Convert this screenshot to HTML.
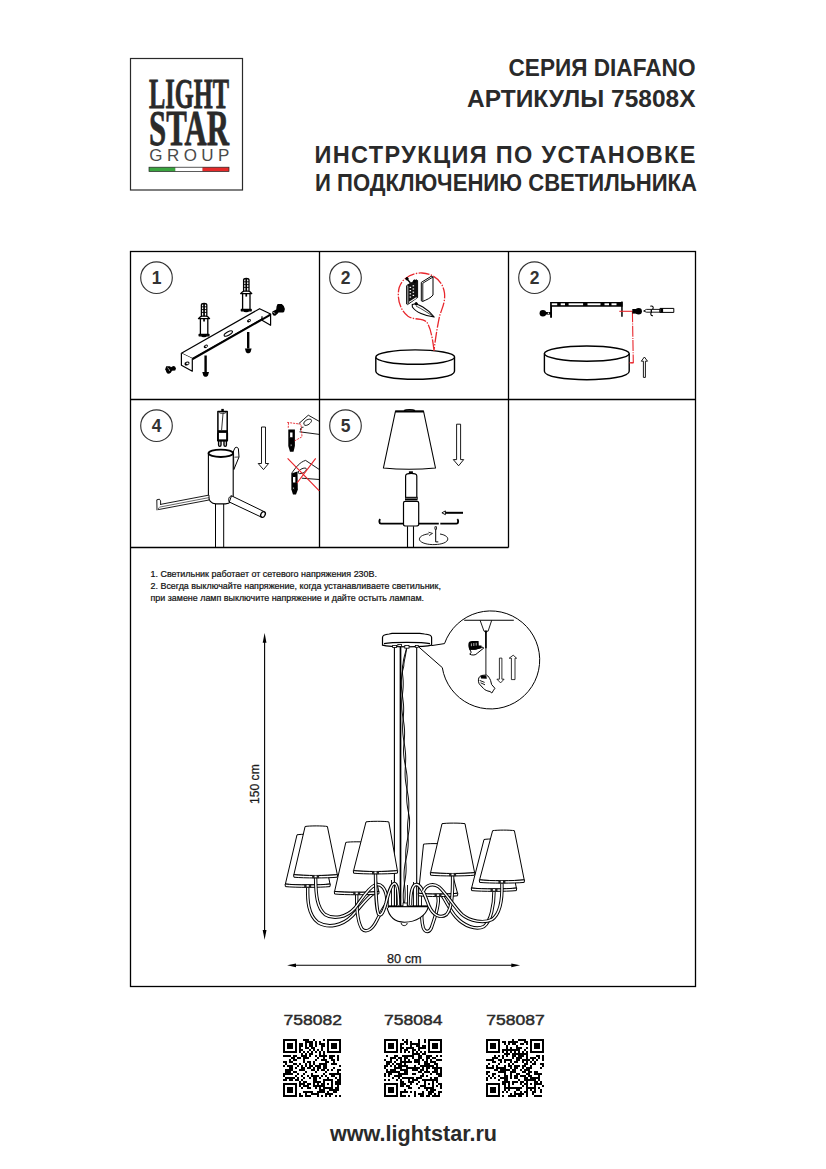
<!DOCTYPE html>
<html><head><meta charset="utf-8">
<style>
html,body{margin:0;padding:0;background:#fff;}
body{width:826px;height:1169px;overflow:hidden;}
svg{display:block;}
</style></head>
<body>
<svg width="826" height="1169" viewBox="0 0 826 1169" font-family="Liberation Sans, sans-serif">
<!-- ===== HEADER ===== -->
<g id="logo">
<rect x="130.5" y="58.5" width="112" height="131.5" fill="none" stroke="#2a2a2a" stroke-width="1.2"/>
<text x="149" y="107.5" font-family="Liberation Serif, serif" font-weight="bold" font-size="42.5" fill="#2a2a2a" stroke="#2a2a2a" stroke-width="0.8" textLength="80" lengthAdjust="spacingAndGlyphs">LIGHT</text>
<text x="149" y="144.5" font-family="Liberation Serif, serif" font-weight="bold" font-size="50.5" fill="#2a2a2a" stroke="#2a2a2a" stroke-width="0.8" textLength="80" lengthAdjust="spacingAndGlyphs">STAR</text>
<text x="149.3" y="161" font-size="17" fill="#4a4a4a" textLength="80" lengthAdjust="spacing">GROUP</text>
<rect x="149" y="167.2" width="26.5" height="4.3" fill="#3aa53f"/>
<rect x="175.5" y="167.2" width="27" height="4.3" fill="#fff" stroke="#bbb" stroke-width="0.4"/>
<rect x="202.5" y="167.2" width="26.5" height="4.3" fill="#e52a2a"/>
<rect x="149" y="167.2" width="80" height="4.3" fill="none" stroke="#222" stroke-width="0.7"/>
</g>
<g id="titles" fill="#2a2a2a" font-weight="bold" text-anchor="end">
<text x="695.5" y="76" font-size="23.5" textLength="187" lengthAdjust="spacingAndGlyphs">СЕРИЯ DIAFANO</text>
<text x="695.5" y="106.5" font-size="23.5" textLength="228.5" lengthAdjust="spacingAndGlyphs">АРТИКУЛЫ 75808X</text>
<text x="695.5" y="162.7" font-size="23.5" textLength="381" lengthAdjust="spacing">ИНСТРУКЦИЯ ПО УСТАНОВКЕ</text>
<text x="697" y="190.6" font-size="23.5" textLength="382" lengthAdjust="spacingAndGlyphs">И ПОДКЛЮЧЕНИЮ СВЕТИЛЬНИКА</text>
</g>

<!-- ===== GRID ===== -->
<g fill="none" stroke="#000" stroke-width="1.3">
<rect x="130.5" y="251.5" width="565" height="735"/>
<line x1="130.5" y1="399.5" x2="695.5" y2="399.5"/>
<line x1="130.5" y1="547.5" x2="508.5" y2="547.5"/>
<line x1="319.5" y1="251.5" x2="319.5" y2="547.5"/>
<line x1="508.5" y1="251.5" x2="508.5" y2="547.5"/>
</g>
<g fill="none" stroke="#333" stroke-width="1.15">
<circle cx="156.5" cy="277.7" r="15.8"/>
<circle cx="345.5" cy="277.7" r="15.8"/>
<circle cx="534.5" cy="277.7" r="15.8"/>
<circle cx="156.5" cy="425.7" r="15.8"/>
<circle cx="345.5" cy="425.7" r="15.8"/>
</g>
<g fill="#333" font-weight="bold" font-size="17.5" text-anchor="middle">
<text x="156.5" y="284">1</text>
<text x="345.5" y="284">2</text>
<text x="534.5" y="284">2</text>
<text x="156.5" y="432">4</text>
<text x="345.5" y="432">5</text>
</g>
<g fill="#111" stroke="#111" stroke-width="0.22" font-size="9">
<text x="150.5" y="577" textLength="226.5" lengthAdjust="spacingAndGlyphs">1. Светильник работает от сетевого напряжения 230В.</text>
<text x="150.5" y="589" textLength="290.5" lengthAdjust="spacingAndGlyphs">2. Всегда выключайте напряжение, когда устанавливаете светильник,</text>
<text x="150.5" y="601" textLength="273.5" lengthAdjust="spacingAndGlyphs">при замене ламп выключите напряжение и дайте остыть лампам.</text>
</g>

<!-- PANEL 1 -->
<g id="p1" fill="none" stroke="#000" stroke-width="1.2" stroke-linejoin="round">
<!-- bracket top face -->
<path d="M181.4 353.3 L259.6 308.7 L270.6 314 L192.3 358.6 Z" fill="#fff"/>
<path d="M181.4 353.3 L181.4 365.2 L192.3 371.2 L192.3 358.6" fill="#fff"/>
<path d="M262 316.2 L262 320.2 L270.6 325.3 L270.6 314" fill="#fff"/>
<path d="M192.6 359.2 L270.6 314.6" stroke-width="1.9"/>
<!-- holes -->
<ellipse cx="205.8" cy="346.4" rx="2.2" ry="1.6" transform="rotate(-28 205.8 346.4)" fill="#000" stroke="none"/>
<ellipse cx="206.2" cy="346.2" rx="1" ry="0.7" fill="#fff" stroke="none"/>
<ellipse cx="228.3" cy="333.5" rx="4.6" ry="1.7" transform="rotate(-28 228.3 333.5)" stroke-width="1.1"/>
<ellipse cx="249" cy="320.8" rx="2.1" ry="1.5" transform="rotate(-28 249 320.8)" fill="#000" stroke="none"/>
<ellipse cx="249.4" cy="320.6" rx="0.9" ry="0.6" fill="#fff" stroke="none"/>
<ellipse cx="187" cy="363.5" rx="2.6" ry="1.9" transform="rotate(-20 187 363.5)" fill="#000" stroke="none"/>
<ellipse cx="187.4" cy="363.4" rx="1.2" ry="0.8" fill="#fff" stroke="none"/>
<!-- left anchor -->
<g transform="translate(0.0 0.0)"><path d="M201.4 316.3 V305 C201.4 303, 206.8 303, 206.8 305 V316.3" fill="#fff" stroke="#000" stroke-width="1.3"/><path d="M204.05 303.2 V321.6" stroke="#000" stroke-width="1.7"/><path d="M201.4 306.8h5.4M201.4 309.6h5.4M201.4 312.4h5.4" stroke="#000" stroke-width="0.9"/><path d="M198.4 318.6 C199.5 317.4, 200.5 316.4, 202 316.2 H206.2 C207.7 316.4, 208.7 317.4, 209.6 318.6 Z" fill="#fff" stroke="#000" stroke-width="1.2"/><path d="M200.4 318.8 V334.4 M207.8 318.8 V334.4" stroke="#000" stroke-width="1.3"/><path d="M199.1 334.3 H209 V335.8 H206.5 C206 337, 202 337, 201.5 335.8 H199.1 Z" fill="#000"/></g>
<!-- right anchor -->
<g transform="translate(42.2 -25.0)"><path d="M201.4 316.3 V305 C201.4 303, 206.8 303, 206.8 305 V316.3" fill="#fff" stroke="#000" stroke-width="1.3"/><path d="M204.05 303.2 V321.6" stroke="#000" stroke-width="1.7"/><path d="M201.4 306.8h5.4M201.4 309.6h5.4M201.4 312.4h5.4" stroke="#000" stroke-width="0.9"/><path d="M198.4 318.6 C199.5 317.4, 200.5 316.4, 202 316.2 H206.2 C207.7 316.4, 208.7 317.4, 209.6 318.6 Z" fill="#fff" stroke="#000" stroke-width="1.2"/><path d="M200.4 318.8 V334.4 M207.8 318.8 V334.4" stroke="#000" stroke-width="1.3"/><path d="M199.1 334.3 H209 V335.8 H206.5 C206 337, 202 337, 201.5 335.8 H199.1 Z" fill="#000"/></g>
<!-- screws -->
<path d="M205.6 355.5 L205.6 372" stroke-width="2.4"/>
<path d="M202.3 372 H209 L208 375.5 C207 377.2, 204.2 377.2, 203.3 375.5 Z" fill="#000" stroke="none"/>
<path d="M248.2 332 L248.2 348.5" stroke-width="2.4"/>
<path d="M244.9 348.5 H251.6 L250.6 352 C249.6 353.7, 246.8 353.7, 245.9 352 Z" fill="#000" stroke="none"/>
<!-- small screw lower-left -->
<path d="M166.2 366.2 H170 L171 367.2 L173.2 366 L175 366.5 L176 368.6 L175.2 370.4 L172 370.8 L170.8 372.8 L169 373.8 L167.4 373.6 L166.4 372.3 L165.8 370.6 L165.1 369.4 Z" fill="#000" stroke="none"/>
<path d="M167.6 367.6 L169.2 369.6 L169.6 371" stroke="#fff" stroke-width="0.6"/>
<!-- black screw head right -->
<path d="M277.6 304 H281.8 L283.8 306 L284.9 309 L284.2 311.8 L283.2 312.6 L278.5 312.6 L277.8 313.6 L275.2 315.8 L273.4 315.6 L272.2 313.8 L272.4 311.6 L274.8 310.2 L276.2 309.4 L276.6 306.2 Z" fill="#000" stroke="none"/>
<path d="M273.4 312 L274.8 313.6" stroke="#fff" stroke-width="0.8"/>
</g>

<!-- PANEL 2 -->
<g id="p2" fill="none" stroke="#000" stroke-width="1" stroke-linejoin="round">
<!-- canopy -->
<path d="M375.8 357.2 L375.8 371.2 C376 382, 454.5 382, 454.5 371.2 L454.5 357.2" fill="#fff" stroke-width="1.4"/>
<ellipse cx="415.2" cy="357.1" rx="39.4" ry="7.2" fill="#fff" stroke-width="1.4"/>
<!-- balloon -->
<path d="M434 350.4 C432.5 338, 430.5 327, 426.5 321.8 C421.5 317.5, 414.5 320.5, 408 316.2 C400 310.5, 396.5 298, 399.2 287.5 C402.5 277, 413.5 272.6, 422 273 C433 273.4, 443 281, 444.5 293 C445.5 303, 441.5 309, 439.5 316.5 C437.5 326, 435.5 338, 434 350.4 Z" stroke="#e8262c" stroke-width="1.3" stroke-dasharray="11 1.4 1.4 1.4"/>
<!-- terminal block -->
<path d="M406.6 285.5 L416.6 279.8 L417.6 280.6 L417.6 297.5 L407.6 304.6 L406.6 304 Z" fill="#111" stroke-width="0.9"/>
<path d="M406.6 285.5 L407.8 286.2 L407.8 304.4" stroke="#fff" stroke-width="0.7"/>
<g fill="#fff" stroke="none">
<rect x="409.6" y="286.8" width="1.5" height="1.2"/><rect x="412.6" y="285.2" width="1.5" height="1.2"/>
<rect x="409.6" y="290" width="1.5" height="1.2"/><rect x="412.6" y="288.4" width="1.5" height="1.2"/>
<rect x="409.6" y="293.2" width="1.5" height="1.2"/><rect x="412.6" y="291.6" width="1.5" height="1.2"/>
<rect x="409.6" y="296.4" width="1.5" height="1.2"/><rect x="412.6" y="294.8" width="1.5" height="1.2"/>
<path d="M409 301.8 L416.5 297 L416.5 298.2 L409 303 Z"/>
</g>
<path d="M407 279 L410.5 283" stroke-width="1.3"/>
<circle cx="407" cy="278.8" r="1.2" fill="#000"/>
<circle cx="414.6" cy="281.2" r="1.3" fill="#000"/>
<!-- cover plate -->
<path d="M421.3 282.4 L431.2 276.3 L433 277 L433 295 C431 298, 426 300, 422.5 301.5 L421.3 300.8 Z" fill="#fff" stroke-width="1"/>
<path d="M422.8 283.2 L422.8 301.2 M422.8 283.2 L433 277" stroke-width="0.9"/>
<!-- screwdriver -->
<path d="M412.2 304.4 C417.5 302.4, 428 309, 434.2 317 C425 316.2, 415.5 312, 412.4 307 Z" fill="#fff" stroke-width="1.1"/>
<path d="M416 306 C422 309, 428 313, 434 316.9" stroke-width="0.7"/>
<circle cx="416.2" cy="303.8" r="1.2" fill="#000"/>
</g>

<!-- PANEL 3 -->
<g id="p3" fill="none" stroke="#000" stroke-width="1" stroke-linejoin="round">
<!-- bracket side view -->
<path d="M550.1 302 H622.6 V306.8 H552 V317.7 H550.1 Z" fill="#000" stroke="none"/>
<path d="M621.2 301.5 H622.7 V316.8 H621.2 Z" fill="#000" stroke="none"/>
<g fill="#fff" stroke="none">
<rect x="551.8" y="303.3" width="5.4" height="1.9"/>
<rect x="560.7" y="303.3" width="4.3" height="1.9"/>
<rect x="568.6" y="303.3" width="14.5" height="1.9"/>
<rect x="587.5" y="303.3" width="13" height="1.9"/>
<rect x="604.5" y="303.3" width="4.5" height="1.9"/>
<rect x="611.5" y="303.3" width="5" height="1.9"/>
</g>
<!-- left screw -->
<circle cx="542.9" cy="313.2" r="3.3" fill="#000" stroke="none"/>
<path d="M545 313.3 H551" stroke-width="2.6"/>
<rect x="547.8" y="312.6" width="1.3" height="1.3" fill="#fff" stroke="none"/>
<!-- red guide -->
<path d="M619.3 311.3 H632.4" stroke="#e8262c" stroke-width="1.1"/>
<path d="M632.4 311.3 L633.3 362.8 H627.1" stroke="#e8262c" stroke-width="1.1" stroke-dasharray="11 1.2 1 1.2"/>
<!-- right screw parts -->
<path d="M632.3 309 H637 V313.6 H632.3 Z" fill="#000" stroke="none"/>
<circle cx="638.6" cy="311.2" r="3.3" fill="#000" stroke="none"/>
<path d="M643.6 311 L646.5 309.4 H660 V312.2 H646.5 Z" fill="#fff" stroke-width="0.9"/>
<path d="M650.3 306.2 C653 305.5, 654 307.5, 652.6 309.3 M651.5 312.2 C650 314, 651 316, 653 315.8" stroke-width="1.1"/>
<path d="M651.3 309.4 V312.2" stroke-width="1.3"/>
<rect x="660" y="308.4" width="13.8" height="4" fill="#fff" stroke-width="1"/>
<rect x="660.3" y="308.4" width="2.8" height="4" fill="#000" stroke="none"/>
<!-- canopy -->
<path d="M544.4 353.6 L544.4 371.2 C544.5 382.5, 629.2 382.5, 629.2 371.2 L629.2 353.6" fill="#fff" stroke-width="1.4"/>
<ellipse cx="586.8" cy="353.6" rx="42.4" ry="7.6" fill="#fff" stroke-width="1.4"/>
<path d="M633.3 362.8 H629.5" stroke="#e8262c" stroke-width="1.2"/>
<!-- up arrow (hollow) -->
<path d="M643.4 377.4 V361.2 H641.3 L644.4 357 L647.5 361.2 H645.4 V377.4 Z" fill="#fff" stroke-width="0.9"/>
</g>

<!-- PANEL 4 -->
<g id="p4" fill="none" stroke="#000" stroke-width="1" stroke-linejoin="round">
<!-- stem -->
<path d="M215.5 503.5 V547 M223.7 503.5 V547" stroke-width="1"/>
<!-- socket -->
<path d="M208.4 453.3 V496 C208.4 500, 211 503.9, 216 503.9 H225.5 C230 503.9, 233.2 500, 233.2 496 V453.3" fill="#fff" stroke-width="1.1"/>
<ellipse cx="220.8" cy="453.3" rx="12.3" ry="3.7" fill="#fff" stroke-width="1.8"/>
<!-- clip -->
<path d="M233.5 451 L235.2 447.6 C236.5 446.8, 238 447.5, 238.4 448.8 L239 457 L233.8 469.6 Z" fill="#fff" stroke-width="1"/>
<path d="M234.5 457.2 L238.8 457" stroke-width="0.7"/>
<!-- left arm -->
<path d="M209 495.1 L158.3 504.8 L158.3 509.6 L209 500 Z" fill="#fff" stroke-width="0.9"/>
<path d="M209 497.6 L158.6 507.3" stroke-width="0.6"/>
<path d="M157 510.3 L156.8 499.8 L159.4 499.2 L160.6 500.8 V505" fill="#fff" stroke-width="0.9"/>
<!-- right arm tube -->
<path d="M231.5 495.8 L264.5 511.8 L261.5 517.2 L229.3 502 Z" fill="#fff" stroke-width="1"/>
<ellipse cx="263" cy="514.5" rx="2.1" ry="3" transform="rotate(28 263 514.5)" fill="#fff" stroke-width="1.3"/>
<path d="M231.5 495.8 C228.5 496.5, 228 500.5, 229.3 502" stroke-width="1"/>
<!-- lamp G9 -->
<rect x="221.3" y="408.9" width="2.5" height="2.4" fill="#000" stroke="none"/>
<path d="M217.9 411.4 H227.2 V440.5 H217.9 Z" fill="#fff" stroke-width="1.5"/>
<ellipse cx="222.6" cy="412.7" rx="3.2" ry="0.9" stroke-width="0.6"/>
<path d="M223.1 412.6 L221.6 430" stroke-width="0.8"/>
<rect x="217.6" y="430.2" width="9.9" height="2.7" fill="#000" stroke="none"/>
<path d="M217.9 432.8 V440.5 H227.2 V432.8" stroke-width="1.8"/>
<path d="M218.6 440.5 V445 C218.6 446.8, 221 446.8, 221 445 V440.5 M224 440.5 V445 C224 446.8, 226.4 446.8, 226.4 445 V440.5" stroke-width="1.4"/>
<!-- down arrow hollow -->
<path d="M261.5 427 H265.5 V463.5 H268.6 L263.5 469.6 L258.2 463.5 H261.5 Z" fill="#fff" stroke-width="0.9"/>
<!-- top hand with lamp (correct) -->
<path d="M298.6 423.8 L308.3 415.2 L319.3 421.4" stroke-width="0.9"/>
<path d="M299.5 431.8 L319.3 434.4" stroke-width="0.9"/>
<path d="M303.8 423 C305 420, 309 418.6, 311 419.4 C312.4 420.5, 311 423, 308 424.8 C305.5 426, 303.5 425.5, 303.8 423 Z" stroke-width="0.9"/>
<path d="M300.5 430.5 C300 428.5, 301.5 427, 303.5 427.2" stroke-width="0.9"/>
<path d="M288.3 429.5 H294.9 V446 L293.5 451.8 H290 L288.3 446 Z" fill="#000" stroke="none"/>
<rect x="289.6" y="432" width="3.4" height="5.8" fill="#fff"/>
<rect x="290.2" y="444" width="1.8" height="2.4" fill="#fff"/>
<path d="M287.2 422.4 L301 424.2 L302 436.8 L294 441.2 M288.5 422.8 L288.2 428.5" stroke="#e8262c" stroke-width="0.9" stroke-dasharray="2 1"/>
<!-- bottom hand with lamp (wrong) -->
<path d="M291.5 473.5 C296 467, 300 462, 305.6 460.4 L319.3 469.5" stroke-width="0.9"/>
<path d="M301.8 478.2 L319.3 479.5" stroke-width="0.9"/>
<path d="M298 472 C300 469, 304 467.5, 306 468.3 C307.2 469.3, 305.5 471.8, 302.8 473 C300.5 474, 298 474, 298 472 Z" stroke-width="0.9"/>
<path d="M291.3 473.4 L297.5 471.6 L297.8 489.8 L296 494.6 H293 L291.4 489.5 Z" fill="#000" stroke="none"/>
<rect x="292.5" y="476.5" width="3.4" height="6.5" fill="#fff"/>
<rect x="292.8" y="487" width="1.6" height="2.4" fill="#fff"/>
<path d="M287.6 458.3 L319.3 490.8 M315.7 458.3 L297 483" stroke="#e8262c" stroke-width="1.2"/>
</g>

<!-- PANEL 5 -->
<g id="p5" fill="none" stroke="#000" stroke-width="1" stroke-linejoin="round">
<!-- shade -->
<path d="M395.4 411.5 H423.6 L435.5 468 C420 469.4, 398 469.4, 383.4 468 Z" fill="#fff" stroke-width="1.1"/>
<path d="M395.2 411.4 H423.8" stroke-width="2.2"/>
<path d="M404 410.6 C406 409.4, 413 409.4, 415 410.6" stroke-width="1.6"/>
<!-- small cap -->
<rect x="408.9" y="471.3" width="4" height="2.4" fill="#000" stroke="none"/>
<!-- bulb -->
<path d="M405.6 499 V476 C405.6 472.6, 416.8 472.6, 416.8 476 V499" fill="#fff" stroke-width="1.2"/>
<path d="M405 496.8 H417.6 V500.4 H405 Z" fill="#000" stroke="none"/>
<path d="M405.4 498.3 H417.2" stroke="#fff" stroke-width="0.5"/>
<!-- arm -->
<path d="M380.2 519.2 C379 520.5, 379 523.6, 381 523.6 H438.8 M440.3 523.6 H456.5 C458.5 523.6, 458.6 520.5, 457.3 519.2" stroke-width="1.9"/>
<!-- socket -->
<path d="M403.5 503 C403.5 501.8, 404.2 501.3, 405.2 501.3 H417 C418 501.3, 418.7 501.8, 418.7 503 V524.5 C418.7 525.6, 417.5 526, 416 526 H406 C404.5 526, 403.5 525.6, 403.5 524.5 Z" fill="#fff" stroke-width="1.2"/>
<!-- stem -->
<path d="M407.5 526.3 V547 M413.5 526.3 V547" stroke-width="1.1"/>
<!-- rotation -->
<path d="M440 534 C446 535, 448.5 537.5, 447.6 540 C446 543.5, 439 544.7, 432.5 544.6 C425 544.4, 419.4 542, 419.4 539.2 C419.4 536.2, 424 534.2, 430.5 533.6" stroke-width="0.9"/>
<path d="M428.5 532.2 L432.5 533.4 L429 535.6" fill="#fff" stroke-width="0.8"/>
<rect x="434.9" y="526.7" width="1.6" height="2.6" fill="#fff" stroke-width="0.8"/>
<path d="M435.7 529.4 V541.9 H438.3" stroke-width="1"/>
<!-- left arrow -->
<path d="M445 512.8 H463" stroke-width="2"/>
<path d="M441.9 512.8 L445.4 510.9 V514.7 Z" fill="#fff" stroke-width="0.9"/>
<!-- down arrow hollow -->
<path d="M456.6 424.2 H460.6 V459.6 H463.7 L458.6 465.8 L453.3 459.6 H456.6 Z" fill="#fff" stroke-width="0.9"/>
</g>

<!-- CHANDELIER -->
<g id="chand">
<g stroke="#000" stroke-width="1.1" fill="none"><path d="M264.6 641 V932"/><path d="M294 965.3 H513"/></g>
<g fill="#000"><path d="M264.6 633 L266.5 642.8 H262.7 Z"/><path d="M264.6 939.8 L266.5 930 H262.7 Z"/><path d="M287.1 965.3 L296 963.4 V967.2 Z"/><path d="M520.1 965.3 L511.3 963.4 V967.2 Z"/></g>
<text x="387" y="962.9" font-size="12.4" fill="#1a1a1a" stroke="#1a1a1a" stroke-width="0.25" textLength="34.6" lengthAdjust="spacingAndGlyphs">80 cm</text>
<text transform="translate(258.7 803.9) rotate(-90)" x="0" y="0" font-size="12.4" fill="#1a1a1a" stroke="#1a1a1a" stroke-width="0.25" textLength="39.6" lengthAdjust="spacingAndGlyphs">150 cm</text>
<g stroke="#000" fill="none"><path d="M394.4 647 V906" stroke-width="1.1"/><path d="M400.5 647 V906" stroke-width="1.7"/><path d="M416.7 647 V906" stroke-width="1.1"/></g>
<g stroke="#000" stroke-width="0.95" fill="none"><path d="M406.70 648.0 L406.38 650.0 L406.05 652.0 L405.71 654.0 L405.34 656.0 L404.94 658.0 L404.50 660.0 L404.20 662.0 L403.87 664.0 L403.81 666.0 L403.33 668.0 L402.81 670.0 L402.28 672.0 L401.90 674.0 L401.69 676.0 L401.52 678.0 L401.39 680.0 L401.33 682.0 L401.34 684.0 L401.41 686.0 L401.54 688.0 L401.73 690.0 L401.96 692.0 L402.21 694.0 L402.48 696.0 L402.74 698.0 L402.98 700.0 L403.23 702.0 L403.44 704.0 L403.58 706.0 L403.65 708.0 L403.66 710.0 L403.61 712.0 L403.50 714.0 L403.36 716.0 L403.19 718.0 L403.02 720.0 L402.86 722.0 L402.72 724.0 L402.63 726.0 L402.60 728.0 L402.63 730.0 L402.72 732.0 L402.89 734.0 L403.11 736.0 L403.38 738.0 L403.69 740.0 L404.02 742.0 L404.35 744.0 L404.66 746.0 L404.94 748.0 L405.18 750.0 L405.38 752.0 L405.55 754.0 L405.65 756.0 L405.69 758.0 L405.66 760.0 L405.60 762.0 L405.49 764.0 L405.38 766.0 L405.26 768.0 L405.16 770.0 L405.10 772.0 L405.09 774.0 L405.14 776.0 L405.25 778.0 L405.43 780.0 L405.68 782.0 L405.98 784.0 L406.32 786.0 L406.69 788.0 L407.08 790.0 L407.46 792.0 L407.82 794.0 L408.14 796.0 L408.41 798.0 L408.62 800.0 L408.76 802.0 L408.83 804.0 L408.84 806.0 L408.80 808.0 L408.72 810.0 L408.61 812.0 L408.49 814.0 L408.39 816.0 L408.31 818.0 L408.03 820.0 L407.81 822.0 L407.65 824.0 L407.56 826.0 L407.54 828.0 L407.58 830.0 L407.66 832.0 L407.79 834.0 L407.94 836.0 L408.09 838.0 L408.23 840.0 L408.24 842.0 L408.20 844.0 L408.11 846.0 L407.95 848.0 L407.73 850.0 L407.44 852.0 L407.09 854.0 L406.69 856.0 L406.26 858.0 L405.81 860.0 L405.36 862.0 L405.01 864.0 L404.71 866.0 L404.44 868.0 L404.24 870.0 L404.10 872.0 L404.03 874.0 L404.03 876.0 L404.08 878.0 L404.18 880.0 L404.31 882.0 L404.45 884.0 L404.66 886.0 L404.85 888.0 L405.01 890.0 L405.11 892.0 L405.15 894.0 L405.13 896.0 L405.04 898.0 L404.89 900.0 L404.68 902.0 L404.43 904.0 L404.15 906.0"/><path d="M406.70 648.0 L406.12 650.0 L405.55 652.0 L404.99 654.0 L404.46 656.0 L403.96 658.0 L403.50 660.0 L403.24 662.0 L403.02 664.0 L402.53 666.0 L402.46 668.0 L402.42 670.0 L402.39 672.0 L402.51 674.0 L402.75 676.0 L402.96 678.0 L403.11 680.0 L403.20 682.0 L403.23 684.0 L403.19 686.0 L403.08 688.0 L402.93 690.0 L402.73 692.0 L402.50 694.0 L402.26 696.0 L402.03 698.0 L401.82 700.0 L401.72 702.0 L401.68 704.0 L401.69 706.0 L401.77 708.0 L401.92 710.0 L402.13 712.0 L402.39 714.0 L402.69 716.0 L403.02 718.0 L403.35 720.0 L403.67 722.0 L403.96 724.0 L404.21 726.0 L404.40 728.0 L404.52 730.0 L404.59 732.0 L404.58 734.0 L404.51 736.0 L404.40 738.0 L404.25 740.0 L404.08 742.0 L403.91 744.0 L403.75 746.0 L403.62 748.0 L403.54 750.0 L403.55 752.0 L403.65 754.0 L403.82 756.0 L404.05 758.0 L404.34 760.0 L404.67 762.0 L405.04 764.0 L405.42 766.0 L405.81 768.0 L406.17 770.0 L406.50 772.0 L406.78 774.0 L407.00 776.0 L407.15 778.0 L407.23 780.0 L407.26 782.0 L407.22 784.0 L407.15 786.0 L407.04 788.0 L406.92 790.0 L406.81 792.0 L406.72 794.0 L406.67 796.0 L406.68 798.0 L406.74 800.0 L406.87 802.0 L407.07 804.0 L407.33 806.0 L407.64 808.0 L407.99 810.0 L408.37 812.0 L408.76 814.0 L409.14 816.0 L409.49 818.0 L409.57 820.0 L409.59 822.0 L409.55 824.0 L409.44 826.0 L409.26 828.0 L409.02 830.0 L408.74 832.0 L408.41 834.0 L408.06 836.0 L407.71 838.0 L407.37 840.0 L406.96 842.0 L406.60 844.0 L406.29 846.0 L406.05 848.0 L405.87 850.0 L405.76 852.0 L405.71 854.0 L405.71 856.0 L405.74 858.0 L405.79 860.0 L405.84 862.0 L405.97 864.0 L406.06 866.0 L406.10 868.0 L406.09 870.0 L406.00 872.0 L405.86 874.0 L405.64 876.0 L405.37 878.0 L405.06 880.0 L404.71 882.0 L404.35 884.0 L404.07 886.0 L403.80 888.0 L403.58 890.0 L403.40 892.0 L403.28 894.0 L403.23 896.0 L403.25 898.0 L403.33 900.0 L403.47 902.0 L403.65 904.0 L403.85 906.0"/></g>
<path d="M382.5 645.2 V637.5 C382.5 635, 385 634.4, 389.2 634 L392 633.3 H419.8 L424.6 634 C429 634.4, 431.6 635, 431.6 637.5 V645.2 C424 647.4, 390 647.4, 382.5 645.2 Z" fill="#fff" stroke="#000" stroke-width="1.2"/>
<path d="M384 643.6 C392 641.9, 422 641.9, 430 643.6" stroke="#000" stroke-width="1.4" fill="none"/>
<g fill="#fff" stroke="#000" stroke-width="0.8"><rect x="392.6" y="645.4" width="4" height="2"/><rect x="397.8" y="644.4" width="3.8" height="2"/><rect x="404.8" y="645.6" width="4.2" height="2.6"/><rect x="415.3" y="645.5" width="3" height="1.8"/></g>
<g fill="none" stroke="#000"><path d="M444.5 643.6 A49 49 0 1 1 442.3 667.6" stroke-width="1"/><path d="M431.7 645.6 L444.5 643.6 M419 647.2 L442.3 667.6" stroke-width="1"/><path d="M464.2 620.3 H513.8" stroke-width="1.1"/><path d="M480.1 620.3 L484 631.2 H488.1 L491.7 620.3" stroke-width="0.9"/><path d="M485.9 631.5 V674.8" stroke-width="0.9"/><path d="M501.9 658.1 V679.2 H504.1 L500.6 682.9 L496.9 679.2 H499.4 V658.1 Z" fill="#fff" stroke-width="0.8"/><path d="M511.4 679.6 V658.2 H509.2 L513.2 655.2 L516.6 658.2 H515 V679.6 Z" fill="#fff" stroke-width="0.8"/></g>
<circle cx="485.9" cy="631.6" r="1.2" fill="#000"/>
<path d="M469.7 649.2 L476 649.2 L482 647 L483.8 648 L477.2 653.3 C476 655.2, 472 655.6, 469.8 654.2 L471.2 652.2 Z" fill="#fff" stroke="#000" stroke-width="1"/>
<path d="M468.4 644.2 C468.4 642, 470 641.1, 472 641.1 L478.6 641.1 L478.8 645.6 L481.5 645.6 V648.3 L474.5 649.7 L469.6 649.7 C468.6 648, 468.2 646, 468.4 644.2 Z" fill="#000"/>
<path d="M471.4 643.4 V646.2 M473.8 643 V646 M476.2 642.8 V645.6" stroke="#fff" stroke-width="0.7" fill="none"/>
<path d="M485.9 632 V648.3" stroke="#000" stroke-width="1.6" fill="none"/>
<path d="M478.4 679.8 C478.6 677, 480.5 675.3, 483 675.3 L486.6 675 C488.2 676, 489.6 678, 490.6 680.5 L491.6 684.5 L494.9 688.3 L493.6 690.2 L491.8 693 L490 691.5 C487 691, 485 690, 483.5 688.5 L479.2 683.8 C478.5 682.5, 478.3 681, 478.4 679.8 Z" fill="#fff" stroke="#000" stroke-width="1"/>
<path d="M480.6 676.2 C482 675.4, 485 675.2, 486.4 675.8 L486.8 678.8 L481 678.6 Z" fill="#000"/>
<path d="M479.6 680.4 L484.6 682.4 M480.6 682.8 L485 684.8" stroke="#000" stroke-width="0.9" fill="none"/>
<path d="M307.7 887.5 C307.4 900, 308 915, 318 922.5 C328 928.5, 342 926, 352 916 C360 908, 366 898, 374 893" stroke="#000" stroke-width="3.40" fill="none" stroke-linecap="butt"/><path d="M307.7 887.5 C307.4 900, 308 915, 318 922.5 C328 928.5, 342 926, 352 916 C360 908, 366 898, 374 893" stroke="#fff" stroke-width="1.50" fill="none" stroke-linecap="butt"/>
<path d="M356.7 894.9 C356.5 908, 357.5 922, 362 929 C366 933, 372 930, 376.5 921 C380 914, 383 908, 386.5 904" stroke="#000" stroke-width="3.40" fill="none" stroke-linecap="butt"/><path d="M356.7 894.9 C356.5 908, 357.5 922, 362 929 C366 933, 372 930, 376.5 921 C380 914, 383 908, 386.5 904" stroke="#fff" stroke-width="1.50" fill="none" stroke-linecap="butt"/>
<path d="M438.0 896.7 C440 905, 434.5 918, 431.5 927.5 C429.5 932.5, 425 933, 423.2 927.5 C421.5 921, 421.5 913, 422.2 907" stroke="#000" stroke-width="3.40" fill="none" stroke-linecap="butt"/><path d="M438.0 896.7 C440 905, 434.5 918, 431.5 927.5 C429.5 932.5, 425 933, 423.2 927.5 C421.5 921, 421.5 913, 422.2 907" stroke="#fff" stroke-width="1.50" fill="none" stroke-linecap="butt"/>
<path d="M494.0 891.5 C494 905, 491 921, 484 926.5 C476 930.5, 464 926, 456 917 C448 908, 444 895, 436 888 C430 884, 424 887, 422 893" stroke="#000" stroke-width="3.40" fill="none" stroke-linecap="butt"/><path d="M494.0 891.5 C494 905, 491 921, 484 926.5 C476 930.5, 464 926, 456 917 C448 908, 444 895, 436 888 C430 884, 424 887, 422 893" stroke="#fff" stroke-width="1.50" fill="none" stroke-linecap="butt"/>
<g stroke="#000" stroke-width="0.9" fill="none"><path d="M391.5 880 V906 M396.5 884 V906 M407.5 885 V906 M413.5 882 V906 M418.5 886 V906 M421.5 884 V906"/></g>
<path d="M423.5 844.2 C427.5 843.4, 440.5 843.4, 444.5 844.2 L457.5 893.2 C447.5 894.4, 428.5 894.4, 418.5 893.2 Z" fill="#fff" stroke="#000" stroke-width="1"/><path d="M418.2 893.2 C428.5 894.4, 447.5 894.4, 457.8 893.2 L457.5 895.8 C447.5 896.8, 428.5 896.8, 418.5 895.8 Z" fill="#fff" stroke="#000" stroke-width="1"/><rect x="434.5" y="893.6" width="7" height="3.2" fill="#222"/><rect x="436.9" y="894.3" width="2.2" height="1.6" fill="#fff"/>
<path d="M484.0 839.5 C488.0 838.7, 502.0 838.7, 506.0 839.5 L516.4 888.0 C506.4 889.2, 481.6 889.2, 471.6 888.0 Z" fill="#fff" stroke="#000" stroke-width="1"/><path d="M471.3 888.0 C481.6 889.2, 506.4 889.2, 516.7 888.0 L516.4 890.6 C506.4 891.6, 481.6 891.6, 471.6 890.6 Z" fill="#fff" stroke="#000" stroke-width="1"/><rect x="490.5" y="888.4" width="7" height="3.2" fill="#222"/><rect x="492.9" y="889.1" width="2.2" height="1.6" fill="#fff"/>
<path d="M345.8 842.4 C349.8 841.6, 364.0 841.6, 368.0 842.4 L378.8 891.4 C368.8 892.6, 344.6 892.6, 334.6 891.4 Z" fill="#fff" stroke="#000" stroke-width="1"/><path d="M334.3 891.4 C344.6 892.6, 368.8 892.6, 379.1 891.4 L378.8 894.0 C368.8 895.0, 344.6 895.0, 334.6 894.0 Z" fill="#fff" stroke="#000" stroke-width="1"/><rect x="353.2" y="891.8" width="7" height="3.2" fill="#222"/><rect x="355.6" y="892.5" width="2.2" height="1.6" fill="#fff"/>
<path d="M297.0 834.8 C301.0 834.0, 316.0 834.0, 320.0 834.8 L330.0 884.0 C320.0 885.2, 295.4 885.2, 285.4 884.0 Z" fill="#fff" stroke="#000" stroke-width="1"/><path d="M285.1 884.0 C295.4 885.2, 320.0 885.2, 330.3 884.0 L330.0 886.6 C320.0 887.6, 295.4 887.6, 285.4 886.6 Z" fill="#fff" stroke="#000" stroke-width="1"/><rect x="304.2" y="884.4" width="7" height="3.2" fill="#222"/><rect x="306.6" y="885.1" width="2.2" height="1.6" fill="#fff"/>
<path d="M386.8 906.4 H428.5 C426 916, 416 922.2, 404.5 922.2 C393 922.2, 388.5 915, 386.8 906.4 Z" fill="#fff" stroke="#000" stroke-width="1.1"/>
<path d="M386.8 906.4 H428.5" stroke="#000" stroke-width="1.6"/>
<path d="M401.2 923 C401.2 926.5, 407.2 926.5, 407.2 923" fill="#fff" stroke="#000" stroke-width="0.9"/>
<rect x="403" y="903" width="4.2" height="3.4" fill="#fff" stroke="#000" stroke-width="0.8"/>
<path d="M315.6 878.1 C315.8 895, 317 908, 325 914.5 C333 919.5, 346 918, 355 908 C362 899, 368 888, 375 885 C381 883, 385 888, 386.5 896 C387.5 902, 387 907, 387 908" stroke="#000" stroke-width="3.40" fill="none" stroke-linecap="butt"/><path d="M315.6 878.1 C315.8 895, 317 908, 325 914.5 C333 919.5, 346 918, 355 908 C362 899, 368 888, 375 885 C381 883, 385 888, 386.5 896 C387.5 902, 387 907, 387 908" stroke="#fff" stroke-width="1.50" fill="none" stroke-linecap="butt"/>
<path d="M375.5 874.1 C375.8 895, 376 908, 378.5 914 C381 917, 383.5 912, 386 903 C388.5 893, 391 884, 394.3 883.5 C397.8 883.5, 398.5 893, 398.5 905" stroke="#000" stroke-width="3.40" fill="none" stroke-linecap="butt"/><path d="M375.5 874.1 C375.8 895, 376 908, 378.5 914 C381 917, 383.5 912, 386 903 C388.5 893, 391 884, 394.3 883.5 C397.8 883.5, 398.5 893, 398.5 905" stroke="#fff" stroke-width="1.50" fill="none" stroke-linecap="butt"/>
<path d="M452.6 876.1 C452.8 895, 452 908, 446.5 914.5 C440 919, 433 915, 429 906 C425.5 897, 422 886, 417 884.5 C412.5 883.5, 410.5 892, 410.5 905" stroke="#000" stroke-width="3.40" fill="none" stroke-linecap="butt"/><path d="M452.6 876.1 C452.8 895, 452 908, 446.5 914.5 C440 919, 433 915, 429 906 C425.5 897, 422 886, 417 884.5 C412.5 883.5, 410.5 892, 410.5 905" stroke="#fff" stroke-width="1.50" fill="none" stroke-linecap="butt"/>
<path d="M501.9 883.3 C502.5 900, 500 914, 492 919.5 C484 923.5, 470 921.5, 462 914.5 C454 907, 447 894, 439 887 C433 882.5, 426 885, 423.5 891" stroke="#000" stroke-width="3.40" fill="none" stroke-linecap="butt"/><path d="M501.9 883.3 C502.5 900, 500 914, 492 919.5 C484 923.5, 470 921.5, 462 914.5 C454 907, 447 894, 439 887 C433 882.5, 426 885, 423.5 891" stroke="#fff" stroke-width="1.50" fill="none" stroke-linecap="butt"/>
<path d="M305.1 826.5 C309.1 825.7, 323.4 825.7, 327.4 826.5 L337.3 874.6 C327.3 875.8, 303.9 875.8, 293.9 874.6 Z" fill="#fff" stroke="#000" stroke-width="1"/><path d="M293.6 874.6 C303.9 875.8, 327.3 875.8, 337.6 874.6 L337.3 877.2 C327.3 878.2, 303.9 878.2, 293.9 877.2 Z" fill="#fff" stroke="#000" stroke-width="1"/><rect x="312.1" y="875.0" width="7" height="3.2" fill="#222"/><rect x="314.5" y="875.7" width="2.2" height="1.6" fill="#fff"/>
<path d="M366.0 821.9 C370.0 821.1, 384.8 821.1, 388.8 821.9 L397.4 870.6 C387.4 871.8, 363.6 871.8, 353.6 870.6 Z" fill="#fff" stroke="#000" stroke-width="1"/><path d="M353.3 870.6 C363.6 871.8, 387.4 871.8, 397.7 870.6 L397.4 873.2 C387.4 874.2, 363.6 874.2, 353.6 873.2 Z" fill="#fff" stroke="#000" stroke-width="1"/><rect x="372.0" y="871.0" width="7" height="3.2" fill="#222"/><rect x="374.4" y="871.7" width="2.2" height="1.6" fill="#fff"/>
<path d="M442.0 823.7 C446.0 822.9, 461.0 822.9, 465.0 823.7 L474.6 872.6 C464.6 873.8, 440.6 873.8, 430.6 872.6 Z" fill="#fff" stroke="#000" stroke-width="1"/><path d="M430.3 872.6 C440.6 873.8, 464.6 873.8, 474.9 872.6 L474.6 875.2 C464.6 876.2, 440.6 876.2, 430.6 875.2 Z" fill="#fff" stroke="#000" stroke-width="1"/><rect x="449.1" y="873.0" width="7" height="3.2" fill="#222"/><rect x="451.5" y="873.7" width="2.2" height="1.6" fill="#fff"/>
<path d="M492.6 830.7 C496.6 829.9, 510.4 829.9, 514.4 830.7 L524.2 879.8 C514.2 881.0, 489.6 881.0, 479.6 879.8 Z" fill="#fff" stroke="#000" stroke-width="1"/><path d="M479.3 879.8 C489.6 881.0, 514.2 881.0, 524.5 879.8 L524.2 882.4 C514.2 883.4, 489.6 883.4, 479.6 882.4 Z" fill="#fff" stroke="#000" stroke-width="1"/><rect x="498.4" y="880.2" width="7" height="3.2" fill="#222"/><rect x="500.8" y="880.9" width="2.2" height="1.6" fill="#fff"/>
</g>
<!-- ===== FOOTER ===== -->
<g fill="#2a2a2a" stroke="#2a2a2a" stroke-width="0.45" font-size="15.5">
<text x="283.5" y="1025.2" textLength="58.5" lengthAdjust="spacingAndGlyphs">758082</text>
<text x="384" y="1025.2" textLength="58.5" lengthAdjust="spacingAndGlyphs">758084</text>
<text x="486.2" y="1025.2" textLength="58.5" lengthAdjust="spacingAndGlyphs">758087</text>
</g>
<text x="330" y="1140.8" fill="#2a2a2a" font-weight="bold" font-size="22" textLength="167" lengthAdjust="spacingAndGlyphs">www.lightstar.ru</text>

<g id="qrs" shape-rendering="crispEdges"><path d="M283.20 1038.70h14.00v2.00h-14.00zM303.20 1038.70h6.00v2.00h-6.00zM313.20 1038.70h2.00v2.00h-2.00zM323.20 1038.70h2.00v2.00h-2.00zM327.20 1038.70h14.00v2.00h-14.00zM283.20 1040.70h2.00v2.00h-2.00zM295.20 1040.70h2.00v2.00h-2.00zM305.20 1040.70h8.00v2.00h-8.00zM315.20 1040.70h2.00v2.00h-2.00zM319.20 1040.70h2.00v2.00h-2.00zM327.20 1040.70h2.00v2.00h-2.00zM339.20 1040.70h2.00v2.00h-2.00zM283.20 1042.70h2.00v2.00h-2.00zM287.20 1042.70h6.00v2.00h-6.00zM295.20 1042.70h2.00v2.00h-2.00zM299.20 1042.70h4.00v2.00h-4.00zM305.20 1042.70h2.00v2.00h-2.00zM309.20 1042.70h4.00v2.00h-4.00zM315.20 1042.70h2.00v2.00h-2.00zM319.20 1042.70h6.00v2.00h-6.00zM327.20 1042.70h2.00v2.00h-2.00zM331.20 1042.70h6.00v2.00h-6.00zM339.20 1042.70h2.00v2.00h-2.00zM283.20 1044.70h2.00v2.00h-2.00zM287.20 1044.70h6.00v2.00h-6.00zM295.20 1044.70h2.00v2.00h-2.00zM299.20 1044.70h4.00v2.00h-4.00zM305.20 1044.70h2.00v2.00h-2.00zM309.20 1044.70h4.00v2.00h-4.00zM315.20 1044.70h2.00v2.00h-2.00zM321.20 1044.70h4.00v2.00h-4.00zM327.20 1044.70h2.00v2.00h-2.00zM331.20 1044.70h6.00v2.00h-6.00zM339.20 1044.70h2.00v2.00h-2.00zM283.20 1046.70h2.00v2.00h-2.00zM287.20 1046.70h6.00v2.00h-6.00zM295.20 1046.70h2.00v2.00h-2.00zM299.20 1046.70h2.00v2.00h-2.00zM305.20 1046.70h4.00v2.00h-4.00zM311.20 1046.70h4.00v2.00h-4.00zM321.20 1046.70h2.00v2.00h-2.00zM327.20 1046.70h2.00v2.00h-2.00zM331.20 1046.70h6.00v2.00h-6.00zM339.20 1046.70h2.00v2.00h-2.00zM283.20 1048.70h2.00v2.00h-2.00zM295.20 1048.70h2.00v2.00h-2.00zM299.20 1048.70h4.00v2.00h-4.00zM309.20 1048.70h2.00v2.00h-2.00zM313.20 1048.70h2.00v2.00h-2.00zM317.20 1048.70h2.00v2.00h-2.00zM321.20 1048.70h2.00v2.00h-2.00zM327.20 1048.70h2.00v2.00h-2.00zM339.20 1048.70h2.00v2.00h-2.00zM283.20 1050.70h14.00v2.00h-14.00zM299.20 1050.70h2.00v2.00h-2.00zM303.20 1050.70h2.00v2.00h-2.00zM307.20 1050.70h2.00v2.00h-2.00zM311.20 1050.70h2.00v2.00h-2.00zM315.20 1050.70h2.00v2.00h-2.00zM319.20 1050.70h2.00v2.00h-2.00zM323.20 1050.70h2.00v2.00h-2.00zM327.20 1050.70h14.00v2.00h-14.00zM301.20 1052.70h2.00v2.00h-2.00zM305.20 1052.70h2.00v2.00h-2.00zM309.20 1052.70h4.00v2.00h-4.00zM319.20 1052.70h2.00v2.00h-2.00zM323.20 1052.70h2.00v2.00h-2.00zM283.20 1054.70h8.00v2.00h-8.00zM293.20 1054.70h4.00v2.00h-4.00zM301.20 1054.70h6.00v2.00h-6.00zM309.20 1054.70h2.00v2.00h-2.00zM315.20 1054.70h2.00v2.00h-2.00zM319.20 1054.70h8.00v2.00h-8.00zM329.20 1054.70h6.00v2.00h-6.00zM337.20 1054.70h2.00v2.00h-2.00zM291.20 1056.70h4.00v2.00h-4.00zM297.20 1056.70h4.00v2.00h-4.00zM303.20 1056.70h6.00v2.00h-6.00zM317.20 1056.70h2.00v2.00h-2.00zM323.20 1056.70h2.00v2.00h-2.00zM329.20 1056.70h4.00v2.00h-4.00zM337.20 1056.70h2.00v2.00h-2.00zM289.20 1058.70h2.00v2.00h-2.00zM293.20 1058.70h4.00v2.00h-4.00zM303.20 1058.70h2.00v2.00h-2.00zM315.20 1058.70h2.00v2.00h-2.00zM321.20 1058.70h6.00v2.00h-6.00zM331.20 1058.70h4.00v2.00h-4.00zM337.20 1058.70h2.00v2.00h-2.00zM283.20 1060.70h4.00v2.00h-4.00zM289.20 1060.70h4.00v2.00h-4.00zM303.20 1060.70h2.00v2.00h-2.00zM307.20 1060.70h4.00v2.00h-4.00zM313.20 1060.70h2.00v2.00h-2.00zM325.20 1060.70h4.00v2.00h-4.00zM333.20 1060.70h2.00v2.00h-2.00zM285.20 1062.70h2.00v2.00h-2.00zM293.20 1062.70h4.00v2.00h-4.00zM299.20 1062.70h2.00v2.00h-2.00zM305.20 1062.70h2.00v2.00h-2.00zM309.20 1062.70h2.00v2.00h-2.00zM313.20 1062.70h2.00v2.00h-2.00zM319.20 1062.70h8.00v2.00h-8.00zM331.20 1062.70h6.00v2.00h-6.00zM283.20 1064.70h2.00v2.00h-2.00zM287.20 1064.70h6.00v2.00h-6.00zM297.20 1064.70h2.00v2.00h-2.00zM301.20 1064.70h2.00v2.00h-2.00zM305.20 1064.70h2.00v2.00h-2.00zM309.20 1064.70h4.00v2.00h-4.00zM315.20 1064.70h6.00v2.00h-6.00zM323.20 1064.70h4.00v2.00h-4.00zM339.20 1064.70h2.00v2.00h-2.00zM289.20 1066.70h4.00v2.00h-4.00zM295.20 1066.70h2.00v2.00h-2.00zM301.20 1066.70h4.00v2.00h-4.00zM307.20 1066.70h4.00v2.00h-4.00zM313.20 1066.70h2.00v2.00h-2.00zM317.20 1066.70h4.00v2.00h-4.00zM323.20 1066.70h4.00v2.00h-4.00zM333.20 1066.70h2.00v2.00h-2.00zM285.20 1068.70h8.00v2.00h-8.00zM299.20 1068.70h6.00v2.00h-6.00zM311.20 1068.70h4.00v2.00h-4.00zM317.20 1068.70h2.00v2.00h-2.00zM321.20 1068.70h4.00v2.00h-4.00zM327.20 1068.70h2.00v2.00h-2.00zM331.20 1068.70h2.00v2.00h-2.00zM337.20 1068.70h4.00v2.00h-4.00zM285.20 1070.70h6.00v2.00h-6.00zM293.20 1070.70h4.00v2.00h-4.00zM305.20 1070.70h2.00v2.00h-2.00zM315.20 1070.70h2.00v2.00h-2.00zM325.20 1070.70h2.00v2.00h-2.00zM337.20 1070.70h2.00v2.00h-2.00zM283.20 1072.70h10.00v2.00h-10.00zM297.20 1072.70h2.00v2.00h-2.00zM303.20 1072.70h2.00v2.00h-2.00zM311.20 1072.70h2.00v2.00h-2.00zM323.20 1072.70h2.00v2.00h-2.00zM329.20 1072.70h12.00v2.00h-12.00zM283.20 1074.70h2.00v2.00h-2.00zM295.20 1074.70h2.00v2.00h-2.00zM301.20 1074.70h2.00v2.00h-2.00zM307.20 1074.70h2.00v2.00h-2.00zM311.20 1074.70h8.00v2.00h-8.00zM321.20 1074.70h2.00v2.00h-2.00zM325.20 1074.70h2.00v2.00h-2.00zM331.20 1074.70h4.00v2.00h-4.00zM339.20 1074.70h2.00v2.00h-2.00zM285.20 1076.70h10.00v2.00h-10.00zM297.20 1076.70h2.00v2.00h-2.00zM303.20 1076.70h2.00v2.00h-2.00zM309.20 1076.70h2.00v2.00h-2.00zM313.20 1076.70h4.00v2.00h-4.00zM319.20 1076.70h2.00v2.00h-2.00zM327.20 1076.70h2.00v2.00h-2.00zM335.20 1076.70h2.00v2.00h-2.00zM339.20 1076.70h2.00v2.00h-2.00zM283.20 1078.70h4.00v2.00h-4.00zM289.20 1078.70h4.00v2.00h-4.00zM295.20 1078.70h4.00v2.00h-4.00zM301.20 1078.70h2.00v2.00h-2.00zM313.20 1078.70h4.00v2.00h-4.00zM323.20 1078.70h10.00v2.00h-10.00zM337.20 1078.70h4.00v2.00h-4.00zM299.20 1080.70h2.00v2.00h-2.00zM303.20 1080.70h4.00v2.00h-4.00zM313.20 1080.70h8.00v2.00h-8.00zM323.20 1080.70h2.00v2.00h-2.00zM331.20 1080.70h2.00v2.00h-2.00zM335.20 1080.70h6.00v2.00h-6.00zM283.20 1082.70h14.00v2.00h-14.00zM299.20 1082.70h6.00v2.00h-6.00zM307.20 1082.70h4.00v2.00h-4.00zM313.20 1082.70h2.00v2.00h-2.00zM317.20 1082.70h2.00v2.00h-2.00zM321.20 1082.70h4.00v2.00h-4.00zM327.20 1082.70h2.00v2.00h-2.00zM331.20 1082.70h2.00v2.00h-2.00zM335.20 1082.70h6.00v2.00h-6.00zM283.20 1084.70h2.00v2.00h-2.00zM295.20 1084.70h2.00v2.00h-2.00zM299.20 1084.70h2.00v2.00h-2.00zM303.20 1084.70h6.00v2.00h-6.00zM313.20 1084.70h12.00v2.00h-12.00zM331.20 1084.70h2.00v2.00h-2.00zM337.20 1084.70h2.00v2.00h-2.00zM283.20 1086.70h2.00v2.00h-2.00zM287.20 1086.70h6.00v2.00h-6.00zM295.20 1086.70h2.00v2.00h-2.00zM301.20 1086.70h2.00v2.00h-2.00zM307.20 1086.70h4.00v2.00h-4.00zM315.20 1086.70h2.00v2.00h-2.00zM319.20 1086.70h2.00v2.00h-2.00zM323.20 1086.70h10.00v2.00h-10.00zM335.20 1086.70h4.00v2.00h-4.00zM283.20 1088.70h2.00v2.00h-2.00zM287.20 1088.70h6.00v2.00h-6.00zM295.20 1088.70h2.00v2.00h-2.00zM319.20 1088.70h6.00v2.00h-6.00zM329.20 1088.70h10.00v2.00h-10.00zM283.20 1090.70h2.00v2.00h-2.00zM287.20 1090.70h6.00v2.00h-6.00zM295.20 1090.70h2.00v2.00h-2.00zM303.20 1090.70h10.00v2.00h-10.00zM317.20 1090.70h8.00v2.00h-8.00zM327.20 1090.70h2.00v2.00h-2.00zM333.20 1090.70h4.00v2.00h-4.00zM283.20 1092.70h2.00v2.00h-2.00zM295.20 1092.70h2.00v2.00h-2.00zM299.20 1092.70h2.00v2.00h-2.00zM305.20 1092.70h2.00v2.00h-2.00zM311.20 1092.70h8.00v2.00h-8.00zM325.20 1092.70h8.00v2.00h-8.00zM283.20 1094.70h14.00v2.00h-14.00zM299.20 1094.70h4.00v2.00h-4.00zM305.20 1094.70h6.00v2.00h-6.00zM317.20 1094.70h2.00v2.00h-2.00zM321.20 1094.70h2.00v2.00h-2.00zM325.20 1094.70h2.00v2.00h-2.00zM329.20 1094.70h2.00v2.00h-2.00zM335.20 1094.70h2.00v2.00h-2.00zM339.20 1094.70h2.00v2.00h-2.00z" fill="#000"/><path d="M384.20 1038.80h14.00v2.00h-14.00zM402.20 1038.80h2.00v2.00h-2.00zM406.20 1038.80h2.00v2.00h-2.00zM418.20 1038.80h2.00v2.00h-2.00zM424.20 1038.80h2.00v2.00h-2.00zM428.20 1038.80h14.00v2.00h-14.00zM384.20 1040.80h2.00v2.00h-2.00zM396.20 1040.80h2.00v2.00h-2.00zM404.20 1040.80h4.00v2.00h-4.00zM410.20 1040.80h2.00v2.00h-2.00zM418.20 1040.80h2.00v2.00h-2.00zM424.20 1040.80h2.00v2.00h-2.00zM428.20 1040.80h2.00v2.00h-2.00zM440.20 1040.80h2.00v2.00h-2.00zM384.20 1042.80h2.00v2.00h-2.00zM388.20 1042.80h6.00v2.00h-6.00zM396.20 1042.80h2.00v2.00h-2.00zM400.20 1042.80h4.00v2.00h-4.00zM406.20 1042.80h2.00v2.00h-2.00zM410.20 1042.80h10.00v2.00h-10.00zM428.20 1042.80h2.00v2.00h-2.00zM432.20 1042.80h6.00v2.00h-6.00zM440.20 1042.80h2.00v2.00h-2.00zM384.20 1044.80h2.00v2.00h-2.00zM388.20 1044.80h6.00v2.00h-6.00zM396.20 1044.80h2.00v2.00h-2.00zM400.20 1044.80h2.00v2.00h-2.00zM410.20 1044.80h2.00v2.00h-2.00zM416.20 1044.80h4.00v2.00h-4.00zM422.20 1044.80h4.00v2.00h-4.00zM428.20 1044.80h2.00v2.00h-2.00zM432.20 1044.80h6.00v2.00h-6.00zM440.20 1044.80h2.00v2.00h-2.00zM384.20 1046.80h2.00v2.00h-2.00zM388.20 1046.80h6.00v2.00h-6.00zM396.20 1046.80h2.00v2.00h-2.00zM400.20 1046.80h4.00v2.00h-4.00zM406.20 1046.80h8.00v2.00h-8.00zM418.20 1046.80h8.00v2.00h-8.00zM428.20 1046.80h2.00v2.00h-2.00zM432.20 1046.80h6.00v2.00h-6.00zM440.20 1046.80h2.00v2.00h-2.00zM384.20 1048.80h2.00v2.00h-2.00zM396.20 1048.80h2.00v2.00h-2.00zM400.20 1048.80h2.00v2.00h-2.00zM404.20 1048.80h4.00v2.00h-4.00zM412.20 1048.80h4.00v2.00h-4.00zM418.20 1048.80h2.00v2.00h-2.00zM428.20 1048.80h2.00v2.00h-2.00zM440.20 1048.80h2.00v2.00h-2.00zM384.20 1050.80h14.00v2.00h-14.00zM400.20 1050.80h2.00v2.00h-2.00zM404.20 1050.80h2.00v2.00h-2.00zM408.20 1050.80h2.00v2.00h-2.00zM412.20 1050.80h2.00v2.00h-2.00zM416.20 1050.80h2.00v2.00h-2.00zM420.20 1050.80h2.00v2.00h-2.00zM424.20 1050.80h2.00v2.00h-2.00zM428.20 1050.80h14.00v2.00h-14.00zM412.20 1052.80h8.00v2.00h-8.00zM422.20 1052.80h4.00v2.00h-4.00zM386.20 1054.80h2.00v2.00h-2.00zM394.20 1054.80h4.00v2.00h-4.00zM402.20 1054.80h12.00v2.00h-12.00zM418.20 1054.80h4.00v2.00h-4.00zM426.20 1054.80h6.00v2.00h-6.00zM436.20 1054.80h2.00v2.00h-2.00zM440.20 1054.80h2.00v2.00h-2.00zM390.20 1056.80h6.00v2.00h-6.00zM398.20 1056.80h4.00v2.00h-4.00zM404.20 1056.80h4.00v2.00h-4.00zM412.20 1056.80h2.00v2.00h-2.00zM418.20 1056.80h4.00v2.00h-4.00zM426.20 1056.80h4.00v2.00h-4.00zM432.20 1056.80h4.00v2.00h-4.00zM384.20 1058.80h2.00v2.00h-2.00zM390.20 1058.80h2.00v2.00h-2.00zM396.20 1058.80h2.00v2.00h-2.00zM400.20 1058.80h2.00v2.00h-2.00zM404.20 1058.80h2.00v2.00h-2.00zM408.20 1058.80h2.00v2.00h-2.00zM414.20 1058.80h6.00v2.00h-6.00zM422.20 1058.80h2.00v2.00h-2.00zM426.20 1058.80h2.00v2.00h-2.00zM430.20 1058.80h2.00v2.00h-2.00zM436.20 1058.80h6.00v2.00h-6.00zM386.20 1060.80h6.00v2.00h-6.00zM394.20 1060.80h2.00v2.00h-2.00zM400.20 1060.80h12.00v2.00h-12.00zM414.20 1060.80h6.00v2.00h-6.00zM424.20 1060.80h4.00v2.00h-4.00zM430.20 1060.80h6.00v2.00h-6.00zM386.20 1062.80h4.00v2.00h-4.00zM392.20 1062.80h2.00v2.00h-2.00zM396.20 1062.80h6.00v2.00h-6.00zM404.20 1062.80h2.00v2.00h-2.00zM418.20 1062.80h2.00v2.00h-2.00zM424.20 1062.80h6.00v2.00h-6.00zM434.20 1062.80h4.00v2.00h-4.00zM384.20 1064.80h4.00v2.00h-4.00zM390.20 1064.80h2.00v2.00h-2.00zM394.20 1064.80h2.00v2.00h-2.00zM398.20 1064.80h10.00v2.00h-10.00zM414.20 1064.80h2.00v2.00h-2.00zM420.20 1064.80h14.00v2.00h-14.00zM436.20 1064.80h2.00v2.00h-2.00zM384.20 1066.80h2.00v2.00h-2.00zM394.20 1066.80h8.00v2.00h-8.00zM406.20 1066.80h14.00v2.00h-14.00zM422.20 1066.80h2.00v2.00h-2.00zM426.20 1066.80h4.00v2.00h-4.00zM432.20 1066.80h10.00v2.00h-10.00zM386.20 1068.80h2.00v2.00h-2.00zM390.20 1068.80h6.00v2.00h-6.00zM400.20 1068.80h8.00v2.00h-8.00zM412.20 1068.80h6.00v2.00h-6.00zM420.20 1068.80h4.00v2.00h-4.00zM426.20 1068.80h2.00v2.00h-2.00zM434.20 1068.80h4.00v2.00h-4.00zM440.20 1068.80h2.00v2.00h-2.00zM386.20 1070.80h14.00v2.00h-14.00zM404.20 1070.80h4.00v2.00h-4.00zM418.20 1070.80h4.00v2.00h-4.00zM424.20 1070.80h6.00v2.00h-6.00zM432.20 1070.80h6.00v2.00h-6.00zM440.20 1070.80h2.00v2.00h-2.00zM384.20 1072.80h2.00v2.00h-2.00zM388.20 1072.80h4.00v2.00h-4.00zM398.20 1072.80h10.00v2.00h-10.00zM412.20 1072.80h4.00v2.00h-4.00zM422.20 1072.80h2.00v2.00h-2.00zM430.20 1072.80h2.00v2.00h-2.00zM436.20 1072.80h6.00v2.00h-6.00zM384.20 1074.80h2.00v2.00h-2.00zM388.20 1074.80h2.00v2.00h-2.00zM394.20 1074.80h8.00v2.00h-8.00zM420.20 1074.80h4.00v2.00h-4.00zM426.20 1074.80h2.00v2.00h-2.00zM438.20 1074.80h4.00v2.00h-4.00zM392.20 1076.80h2.00v2.00h-2.00zM398.20 1076.80h2.00v2.00h-2.00zM402.20 1076.80h12.00v2.00h-12.00zM416.20 1076.80h6.00v2.00h-6.00zM430.20 1076.80h2.00v2.00h-2.00zM434.20 1076.80h4.00v2.00h-4.00zM384.20 1078.80h2.00v2.00h-2.00zM388.20 1078.80h2.00v2.00h-2.00zM396.20 1078.80h2.00v2.00h-2.00zM400.20 1078.80h2.00v2.00h-2.00zM408.20 1078.80h2.00v2.00h-2.00zM412.20 1078.80h6.00v2.00h-6.00zM422.20 1078.80h16.00v2.00h-16.00zM400.20 1080.80h4.00v2.00h-4.00zM408.20 1080.80h6.00v2.00h-6.00zM418.20 1080.80h2.00v2.00h-2.00zM424.20 1080.80h2.00v2.00h-2.00zM432.20 1080.80h2.00v2.00h-2.00zM436.20 1080.80h2.00v2.00h-2.00zM384.20 1082.80h14.00v2.00h-14.00zM400.20 1082.80h6.00v2.00h-6.00zM410.20 1082.80h2.00v2.00h-2.00zM416.20 1082.80h2.00v2.00h-2.00zM424.20 1082.80h2.00v2.00h-2.00zM428.20 1082.80h2.00v2.00h-2.00zM432.20 1082.80h2.00v2.00h-2.00zM438.20 1082.80h4.00v2.00h-4.00zM384.20 1084.80h2.00v2.00h-2.00zM396.20 1084.80h2.00v2.00h-2.00zM400.20 1084.80h4.00v2.00h-4.00zM406.20 1084.80h4.00v2.00h-4.00zM420.20 1084.80h6.00v2.00h-6.00zM432.20 1084.80h2.00v2.00h-2.00zM436.20 1084.80h2.00v2.00h-2.00zM440.20 1084.80h2.00v2.00h-2.00zM384.20 1086.80h2.00v2.00h-2.00zM388.20 1086.80h6.00v2.00h-6.00zM396.20 1086.80h2.00v2.00h-2.00zM408.20 1086.80h4.00v2.00h-4.00zM418.20 1086.80h2.00v2.00h-2.00zM424.20 1086.80h10.00v2.00h-10.00zM440.20 1086.80h2.00v2.00h-2.00zM384.20 1088.80h2.00v2.00h-2.00zM388.20 1088.80h6.00v2.00h-6.00zM396.20 1088.80h2.00v2.00h-2.00zM404.20 1088.80h2.00v2.00h-2.00zM426.20 1088.80h2.00v2.00h-2.00zM430.20 1088.80h6.00v2.00h-6.00zM384.20 1090.80h2.00v2.00h-2.00zM388.20 1090.80h6.00v2.00h-6.00zM396.20 1090.80h2.00v2.00h-2.00zM400.20 1090.80h8.00v2.00h-8.00zM410.20 1090.80h2.00v2.00h-2.00zM414.20 1090.80h2.00v2.00h-2.00zM422.20 1090.80h2.00v2.00h-2.00zM428.20 1090.80h6.00v2.00h-6.00zM438.20 1090.80h4.00v2.00h-4.00zM384.20 1092.80h2.00v2.00h-2.00zM396.20 1092.80h2.00v2.00h-2.00zM400.20 1092.80h2.00v2.00h-2.00zM414.20 1092.80h2.00v2.00h-2.00zM418.20 1092.80h6.00v2.00h-6.00zM428.20 1092.80h4.00v2.00h-4.00zM434.20 1092.80h2.00v2.00h-2.00zM438.20 1092.80h2.00v2.00h-2.00zM384.20 1094.80h14.00v2.00h-14.00zM400.20 1094.80h6.00v2.00h-6.00zM408.20 1094.80h2.00v2.00h-2.00zM414.20 1094.80h2.00v2.00h-2.00zM420.20 1094.80h4.00v2.00h-4.00zM426.20 1094.80h4.00v2.00h-4.00zM432.20 1094.80h8.00v2.00h-8.00z" fill="#000"/><path d="M486.20 1038.70h14.00v2.00h-14.00zM512.20 1038.70h2.00v2.00h-2.00zM518.20 1038.70h8.00v2.00h-8.00zM530.20 1038.70h14.00v2.00h-14.00zM486.20 1040.70h2.00v2.00h-2.00zM498.20 1040.70h2.00v2.00h-2.00zM502.20 1040.70h4.00v2.00h-4.00zM508.20 1040.70h10.00v2.00h-10.00zM524.20 1040.70h4.00v2.00h-4.00zM530.20 1040.70h2.00v2.00h-2.00zM542.20 1040.70h2.00v2.00h-2.00zM486.20 1042.70h2.00v2.00h-2.00zM490.20 1042.70h6.00v2.00h-6.00zM498.20 1042.70h2.00v2.00h-2.00zM504.20 1042.70h2.00v2.00h-2.00zM508.20 1042.70h2.00v2.00h-2.00zM512.20 1042.70h4.00v2.00h-4.00zM520.20 1042.70h4.00v2.00h-4.00zM526.20 1042.70h2.00v2.00h-2.00zM530.20 1042.70h2.00v2.00h-2.00zM534.20 1042.70h6.00v2.00h-6.00zM542.20 1042.70h2.00v2.00h-2.00zM486.20 1044.70h2.00v2.00h-2.00zM490.20 1044.70h6.00v2.00h-6.00zM498.20 1044.70h2.00v2.00h-2.00zM506.20 1044.70h2.00v2.00h-2.00zM516.20 1044.70h2.00v2.00h-2.00zM530.20 1044.70h2.00v2.00h-2.00zM534.20 1044.70h6.00v2.00h-6.00zM542.20 1044.70h2.00v2.00h-2.00zM486.20 1046.70h2.00v2.00h-2.00zM490.20 1046.70h6.00v2.00h-6.00zM498.20 1046.70h2.00v2.00h-2.00zM506.20 1046.70h2.00v2.00h-2.00zM510.20 1046.70h2.00v2.00h-2.00zM516.20 1046.70h6.00v2.00h-6.00zM526.20 1046.70h2.00v2.00h-2.00zM530.20 1046.70h2.00v2.00h-2.00zM534.20 1046.70h6.00v2.00h-6.00zM542.20 1046.70h2.00v2.00h-2.00zM486.20 1048.70h2.00v2.00h-2.00zM498.20 1048.70h2.00v2.00h-2.00zM502.20 1048.70h18.00v2.00h-18.00zM524.20 1048.70h2.00v2.00h-2.00zM530.20 1048.70h2.00v2.00h-2.00zM542.20 1048.70h2.00v2.00h-2.00zM486.20 1050.70h14.00v2.00h-14.00zM502.20 1050.70h2.00v2.00h-2.00zM506.20 1050.70h2.00v2.00h-2.00zM510.20 1050.70h2.00v2.00h-2.00zM514.20 1050.70h2.00v2.00h-2.00zM518.20 1050.70h2.00v2.00h-2.00zM522.20 1050.70h2.00v2.00h-2.00zM526.20 1050.70h2.00v2.00h-2.00zM530.20 1050.70h14.00v2.00h-14.00zM504.20 1052.70h6.00v2.00h-6.00zM512.20 1052.70h16.00v2.00h-16.00zM494.20 1054.70h2.00v2.00h-2.00zM498.20 1054.70h2.00v2.00h-2.00zM502.20 1054.70h2.00v2.00h-2.00zM506.20 1054.70h2.00v2.00h-2.00zM512.20 1054.70h4.00v2.00h-4.00zM518.20 1054.70h6.00v2.00h-6.00zM526.20 1054.70h2.00v2.00h-2.00zM536.20 1054.70h4.00v2.00h-4.00zM542.20 1054.70h2.00v2.00h-2.00zM492.20 1056.70h6.00v2.00h-6.00zM502.20 1056.70h2.00v2.00h-2.00zM512.20 1056.70h2.00v2.00h-2.00zM516.20 1056.70h6.00v2.00h-6.00zM526.20 1056.70h2.00v2.00h-2.00zM530.20 1056.70h6.00v2.00h-6.00zM538.20 1056.70h2.00v2.00h-2.00zM542.20 1056.70h2.00v2.00h-2.00zM486.20 1058.70h8.00v2.00h-8.00zM498.20 1058.70h4.00v2.00h-4.00zM504.20 1058.70h8.00v2.00h-8.00zM516.20 1058.70h4.00v2.00h-4.00zM522.20 1058.70h8.00v2.00h-8.00zM532.20 1058.70h2.00v2.00h-2.00zM536.20 1058.70h2.00v2.00h-2.00zM542.20 1058.70h2.00v2.00h-2.00zM492.20 1060.70h4.00v2.00h-4.00zM500.20 1060.70h2.00v2.00h-2.00zM504.20 1060.70h2.00v2.00h-2.00zM510.20 1060.70h2.00v2.00h-2.00zM514.20 1060.70h4.00v2.00h-4.00zM522.20 1060.70h2.00v2.00h-2.00zM526.20 1060.70h2.00v2.00h-2.00zM530.20 1060.70h2.00v2.00h-2.00zM534.20 1060.70h2.00v2.00h-2.00zM488.20 1062.70h2.00v2.00h-2.00zM498.20 1062.70h2.00v2.00h-2.00zM508.20 1062.70h2.00v2.00h-2.00zM512.20 1062.70h2.00v2.00h-2.00zM524.20 1062.70h4.00v2.00h-4.00zM532.20 1062.70h4.00v2.00h-4.00zM540.20 1062.70h4.00v2.00h-4.00zM486.20 1064.70h2.00v2.00h-2.00zM492.20 1064.70h2.00v2.00h-2.00zM496.20 1064.70h2.00v2.00h-2.00zM504.20 1064.70h2.00v2.00h-2.00zM508.20 1064.70h4.00v2.00h-4.00zM514.20 1064.70h6.00v2.00h-6.00zM522.20 1064.70h4.00v2.00h-4.00zM530.20 1064.70h2.00v2.00h-2.00zM542.20 1064.70h2.00v2.00h-2.00zM486.20 1066.70h8.00v2.00h-8.00zM496.20 1066.70h10.00v2.00h-10.00zM510.20 1066.70h2.00v2.00h-2.00zM514.20 1066.70h4.00v2.00h-4.00zM522.20 1066.70h2.00v2.00h-2.00zM526.20 1066.70h6.00v2.00h-6.00zM540.20 1066.70h2.00v2.00h-2.00zM494.20 1068.70h4.00v2.00h-4.00zM500.20 1068.70h10.00v2.00h-10.00zM512.20 1068.70h4.00v2.00h-4.00zM520.20 1068.70h2.00v2.00h-2.00zM524.20 1068.70h6.00v2.00h-6.00zM486.20 1070.70h4.00v2.00h-4.00zM498.20 1070.70h8.00v2.00h-8.00zM510.20 1070.70h6.00v2.00h-6.00zM522.20 1070.70h4.00v2.00h-4.00zM528.20 1070.70h4.00v2.00h-4.00zM534.20 1070.70h4.00v2.00h-4.00zM486.20 1072.70h2.00v2.00h-2.00zM492.20 1072.70h4.00v2.00h-4.00zM504.20 1072.70h2.00v2.00h-2.00zM510.20 1072.70h2.00v2.00h-2.00zM516.20 1072.70h4.00v2.00h-4.00zM526.20 1072.70h4.00v2.00h-4.00zM534.20 1072.70h8.00v2.00h-8.00zM488.20 1074.70h2.00v2.00h-2.00zM492.20 1074.70h2.00v2.00h-2.00zM498.20 1074.70h2.00v2.00h-2.00zM504.20 1074.70h4.00v2.00h-4.00zM510.20 1074.70h2.00v2.00h-2.00zM514.20 1074.70h4.00v2.00h-4.00zM520.20 1074.70h6.00v2.00h-6.00zM528.20 1074.70h4.00v2.00h-4.00zM538.20 1074.70h2.00v2.00h-2.00zM486.20 1076.70h2.00v2.00h-2.00zM490.20 1076.70h2.00v2.00h-2.00zM494.20 1076.70h2.00v2.00h-2.00zM500.20 1076.70h8.00v2.00h-8.00zM510.20 1076.70h2.00v2.00h-2.00zM514.20 1076.70h4.00v2.00h-4.00zM524.20 1076.70h4.00v2.00h-4.00zM530.20 1076.70h10.00v2.00h-10.00zM486.20 1078.70h2.00v2.00h-2.00zM498.20 1078.70h2.00v2.00h-2.00zM504.20 1078.70h4.00v2.00h-4.00zM518.20 1078.70h2.00v2.00h-2.00zM524.20 1078.70h12.00v2.00h-12.00zM538.20 1078.70h2.00v2.00h-2.00zM502.20 1080.70h8.00v2.00h-8.00zM512.20 1080.70h6.00v2.00h-6.00zM520.20 1080.70h4.00v2.00h-4.00zM526.20 1080.70h2.00v2.00h-2.00zM534.20 1080.70h4.00v2.00h-4.00zM540.20 1080.70h2.00v2.00h-2.00zM486.20 1082.70h14.00v2.00h-14.00zM502.20 1082.70h4.00v2.00h-4.00zM508.20 1082.70h2.00v2.00h-2.00zM512.20 1082.70h2.00v2.00h-2.00zM520.20 1082.70h2.00v2.00h-2.00zM524.20 1082.70h4.00v2.00h-4.00zM530.20 1082.70h2.00v2.00h-2.00zM534.20 1082.70h8.00v2.00h-8.00zM486.20 1084.70h2.00v2.00h-2.00zM498.20 1084.70h2.00v2.00h-2.00zM504.20 1084.70h2.00v2.00h-2.00zM508.20 1084.70h2.00v2.00h-2.00zM522.20 1084.70h2.00v2.00h-2.00zM526.20 1084.70h2.00v2.00h-2.00zM534.20 1084.70h2.00v2.00h-2.00zM542.20 1084.70h2.00v2.00h-2.00zM486.20 1086.70h2.00v2.00h-2.00zM490.20 1086.70h6.00v2.00h-6.00zM498.20 1086.70h2.00v2.00h-2.00zM504.20 1086.70h18.00v2.00h-18.00zM526.20 1086.70h10.00v2.00h-10.00zM538.20 1086.70h2.00v2.00h-2.00zM486.20 1088.70h2.00v2.00h-2.00zM490.20 1088.70h6.00v2.00h-6.00zM498.20 1088.70h2.00v2.00h-2.00zM504.20 1088.70h2.00v2.00h-2.00zM508.20 1088.70h2.00v2.00h-2.00zM516.20 1088.70h4.00v2.00h-4.00zM526.20 1088.70h2.00v2.00h-2.00zM530.20 1088.70h2.00v2.00h-2.00zM534.20 1088.70h2.00v2.00h-2.00zM540.20 1088.70h2.00v2.00h-2.00zM486.20 1090.70h2.00v2.00h-2.00zM490.20 1090.70h6.00v2.00h-6.00zM498.20 1090.70h2.00v2.00h-2.00zM502.20 1090.70h2.00v2.00h-2.00zM506.20 1090.70h2.00v2.00h-2.00zM514.20 1090.70h2.00v2.00h-2.00zM520.20 1090.70h2.00v2.00h-2.00zM524.20 1090.70h4.00v2.00h-4.00zM532.20 1090.70h4.00v2.00h-4.00zM540.20 1090.70h2.00v2.00h-2.00zM486.20 1092.70h2.00v2.00h-2.00zM498.20 1092.70h2.00v2.00h-2.00zM510.20 1092.70h2.00v2.00h-2.00zM514.20 1092.70h10.00v2.00h-10.00zM526.20 1092.70h2.00v2.00h-2.00zM532.20 1092.70h2.00v2.00h-2.00zM486.20 1094.70h14.00v2.00h-14.00zM502.20 1094.70h2.00v2.00h-2.00zM508.20 1094.70h8.00v2.00h-8.00zM518.20 1094.70h4.00v2.00h-4.00zM526.20 1094.70h2.00v2.00h-2.00zM534.20 1094.70h8.00v2.00h-8.00z" fill="#000"/></g>
</svg>
</body></html>
